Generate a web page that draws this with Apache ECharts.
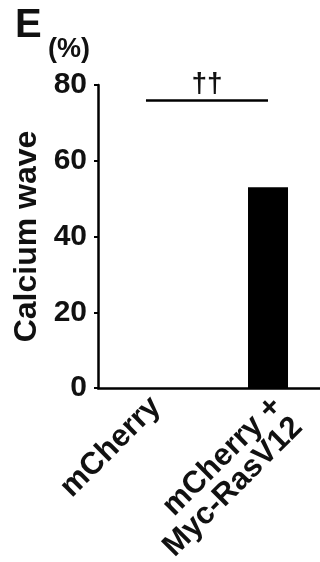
<!DOCTYPE html>
<html><head><meta charset="utf-8">
<script src="https://cdn.jsdelivr.net/npm/echarts@6/dist/echarts.min.js"></script>
<style>html,body{margin:0;padding:0;background:#fff}#c{width:320px;height:562px}</style>
</head><body><div id="c"></div>
<script>
const categories = ['mCherry', 'mCherry +\nMyc-RasV12'];
const values = [0, 53];
const yTicks = [0, 20, 40, 60, 80];
const sigLevel = 76;
const sigMark = '††';
const panelLetter = 'E';
const unitLabel = '(%)';
const yName = 'Calcium wave';

const F = '"Liberation Sans", Arial, Helvetica, sans-serif';
const chart = echarts.init(document.getElementById('c'), null, {renderer: 'canvas'});
chart.setOption({
  animation: false,
  backgroundColor: '#fff',
  grid: {left: 98, right: 0, top: 85, bottom: 174, containLabel: false, outerBoundsMode: 'none'},
  title: {text: panelLetter, left: 10, top: 1, textStyle: {fontFamily: F, fontSize: 40, fontWeight: 'bold', color: '#111'}},
  graphic: [{type: 'text', left: 48, top: 36, style: {text: unitLabel, font: 'bold 27px ' + F, fill: '#111'}}],
  xAxis: [{
    type: 'value', min: -0.393, max: 1.426,
    splitLine: {show: false},
    axisLine: {show: true, onZero: false, lineStyle: {color: '#000', width: 2.5}},
    axisTick: {show: false},
    axisLabel: {show: false}
  }, {
    // label-only axis: category names placed below and to the right of each bar slot
    type: 'value', position: 'bottom', min: -0.479, max: 1.355,
    splitLine: {show: false},
    axisLine: {show: false, onZero: false},
    axisTick: {show: false},
    axisLabel: {
      customValues: [0, 1], showMinLabel: true, showMaxLabel: true, hideOverlap: false,
      rotate: 45, margin: 14,
      fontFamily: F, fontSize: 31, fontWeight: 'bold', color: '#111', lineHeight: 29,
      formatter: v => {
        const s = categories[Math.round(v)] || '';
        return s.indexOf('\n') >= 0 ? '\n' + s : s;
      }
    }
  }],
  yAxis: {
    type: 'value', min: 0, max: 80, interval: 20,
    name: yName, nameLocation: 'middle', nameGap: 54, nameRotate: 90,
    nameTextStyle: {fontFamily: F, fontSize: 32, fontWeight: 'bold', color: '#111'},
    splitLine: {show: false},
    axisLine: {show: true, onZero: false, lineStyle: {color: '#000', width: 2.5}},
    axisTick: {show: true, length: 4, lineStyle: {color: '#000', width: 2}},
    axisLabel: {margin: 11, fontFamily: F, fontSize: 30, fontWeight: 'bold', color: '#111',
      formatter: v => yTicks.includes(v) ? String(v) : ''}
  },
  series: [{
    type: 'bar', barWidth: 40, xAxisIndex: 0,
    data: values.map((v, i) => [i, v]),
    itemStyle: {color: '#000'},
    markLine: {
      silent: true, symbol: 'none',
      lineStyle: {color: '#000', width: 2.5, type: 'solid'},
      label: {show: true, position: 'middle', formatter: sigMark, fontFamily: F, fontSize: 28, fontWeight: 'bold', color: '#111', distance: 2},
      data: [[{coord: [0, sigLevel]}, {coord: [1, sigLevel]}]]
    }
  }]
});
</script></body></html>
